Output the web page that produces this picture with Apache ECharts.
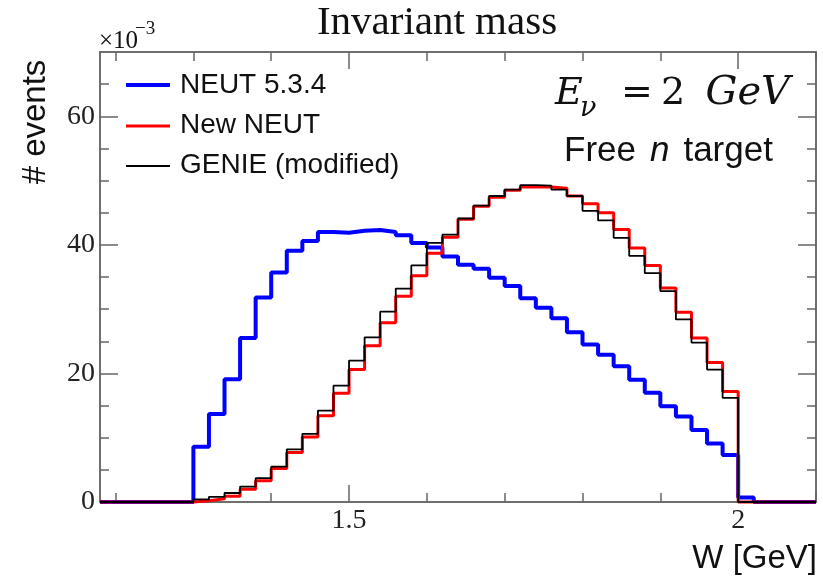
<!DOCTYPE html>
<html>
<head>
<meta charset="utf-8">
<script src="https://cdn.jsdelivr.net/npm/echarts@6.0.0/dist/echarts.min.js"></script>
<style>
  html, body { margin: 0; padding: 0; background: #fff; }
  #chart { width: 823px; height: 579px; }
</style>
</head>
<body>
<div id="chart"></div>
<script>
// Histogram binning: 46 bins of 0.02 GeV from 1.18 to 2.10 (values in units of 1e-3)
const binStart = 1.18;
const binWidth = 0.02;
const neut534 = [0, 0, 0, 0, 0, 0,
  8.6, 13.7, 19.1, 25.5, 31.8, 35.7, 39.1, 40.6, 42.0, 41.9,
  42.2, 42.3, 42.0, 41.5, 40.3, 39.6, 38.2, 36.9, 36.3, 34.9,
  33.6, 31.7, 30.2, 28.6, 26.4, 24.5, 22.9, 21.1, 19.0, 17.0,
  14.9, 13.3, 11.2, 9.1, 7.3, 0.7, 0, 0, 0, 0];
const newNeut = [0, 0, 0, 0, 0, 0,
  0.2, 0.5, 0.9, 2.0, 3.3, 5.2, 7.7, 10.1, 13.4, 16.9,
  20.6, 24.3, 27.9, 32.0, 35.2, 38.7, 41.2, 44.0, 46.0, 47.4,
  48.5, 49.0, 49.0, 48.8, 47.6, 46.4, 45.0, 42.4, 39.5, 36.8,
  33.3, 29.5, 25.5, 21.7, 17.2, 0, 0, 0, 0, 0];
const genieMod = [0, 0, 0, 0, 0, 0,
  0.4, 0.8, 1.4, 2.4, 3.7, 5.5, 8.2, 10.6, 14.2, 18.1,
  22.0, 25.6, 29.6, 33.2, 36.8, 40.3, 41.6, 44.1, 46.1, 47.6,
  48.6, 49.3, 49.2, 48.6, 47.6, 45.3, 43.8, 41.1, 38.3, 35.6,
  32.8, 28.4, 24.8, 20.6, 16.2, 0, 0, 0, 0, 0];
const seriesNames = ['NEUT 5.3.4', 'New NEUT', 'GENIE (modified)'];
const xMajorTicks = [1.5, 2];
const xMinorTicks = [1.2, 1.3, 1.4, 1.6, 1.7, 1.8, 1.9, 2.1];
const yMajorTicks = [0, 20, 40, 60];
const yMinorTicks = [5, 10, 15, 25, 30, 35, 45, 50, 55, 65];

function stepPoints(vals) {
  const pts = vals.map((v, i) => [+(binStart + i * binWidth).toFixed(4), v]);
  pts.push([+(binStart + vals.length * binWidth).toFixed(4), vals[vals.length - 1]]);
  return pts;
}

const SERIF = '"Liberation Serif", "Times New Roman", serif';
const SANS = '"Liberation Sans", Arial, sans-serif';
const MATH = '"DejaVu Serif", serif';
const frameColor = '#666';
const xMin = binStart, xMax = +(binStart + neut534.length * binWidth).toFixed(4);

function xAx(pos, ticks, len, labels) {
  return {
    type: 'value', min: xMin, max: xMax, position: pos, gridIndex: 0,
    axisLine: { show: true, onZero: false, lineStyle: { color: frameColor, width: 1.5 } },
    axisTick: { show: true, inside: true, length: len, customValues: ticks, lineStyle: { color: frameColor, width: 1.5 } },
    axisLabel: labels ? { show: true, customValues: ticks, fontFamily: SERIF, fontSize: 28, color: '#222', margin: 5,
      formatter: v => String(v) } : { show: false },
    splitLine: { show: false }
  };
}
function yAx(pos, ticks, len, labels) {
  return {
    type: 'value', min: 0, max: 70, position: pos, gridIndex: 0,
    axisLine: { show: true, onZero: false, lineStyle: { color: frameColor, width: 1.5 } },
    axisTick: { show: true, inside: true, length: len, customValues: ticks, lineStyle: { color: frameColor, width: 1.5 } },
    axisLabel: labels ? { show: true, customValues: ticks, fontFamily: SERIF, fontSize: 28, color: '#222', margin: 5 } : { show: false },
    splitLine: { show: false }
  };
}
function txt(x, y, text, font, align, extra) {
  return Object.assign({ type: 'text', x: x, y: y, style: { text: text, font: font, fill: '#111',
    align: align, textAlign: align, verticalAlign: 'middle', textVerticalAlign: 'middle' } }, extra || {});
}

const chart = echarts.init(document.getElementById('chart'), null, { renderer: 'canvas' });
const option = {
  backgroundColor: '#fff',
  animation: false,
  grid: { left: 100, top: 52, width: 716, height: 450, containLabel: false },
  xAxis: [
    xAx('bottom', xMajorTicks, 17, true),
    xAx('bottom', xMinorTicks, 9, false),
    xAx('top', xMajorTicks, 17, false),
    xAx('top', xMinorTicks, 9, false)
  ],
  yAxis: [
    yAx('left', yMajorTicks, 18, true),
    yAx('left', yMinorTicks, 9, false),
    yAx('right', yMajorTicks, 18, false),
    yAx('right', yMinorTicks, 9, false)
  ],
  series: [
    { name: seriesNames[0], type: 'line', step: 'end', symbol: 'none', clip: false, z: 2,
      data: stepPoints(neut534), lineStyle: { color: '#0000ff', width: 4 } },
    { name: seriesNames[1], type: 'line', step: 'end', symbol: 'none', clip: false, z: 3,
      data: stepPoints(newNeut), lineStyle: { color: '#ff0000', width: 3 } },
    { name: seriesNames[2], type: 'line', step: 'end', symbol: 'none', clip: false, z: 4,
      data: stepPoints(genieMod), lineStyle: { color: '#000000', width: 1.8 } }
  ],
  graphic: [
    txt(437, 23, 'Invariant mass', '41px ' + SERIF, 'center'),
    txt(99, 41, '×10', '25px ' + SERIF, 'left'),
    txt(135, 29, '−3', '19px ' + SERIF, 'left'),
    txt(35.5, 122, '# events', '33px ' + SANS, 'center', { rotation: Math.PI / 2 }),
    txt(817, 559, 'W [GeV]', '33px ' + SANS, 'right'),
    // legend
    { type: 'line', shape: { x1: 126, y1: 85, x2: 170, y2: 85 }, style: { stroke: '#0000ff', lineWidth: 4 } },
    { type: 'line', shape: { x1: 126, y1: 126, x2: 170, y2: 126 }, style: { stroke: '#ff0000', lineWidth: 3 } },
    { type: 'line', shape: { x1: 126, y1: 166, x2: 170, y2: 166 }, style: { stroke: '#000000', lineWidth: 1.8 } },
    txt(180, 85, seriesNames[0], '28px ' + SANS, 'left'),
    txt(180, 125, seriesNames[1], '28px ' + SANS, 'left'),
    txt(180, 165, seriesNames[2], '28px ' + SANS, 'left'),
    // annotations
    txt(555, 94, 'E', 'italic 38px ' + MATH, 'left'),
    txt(580, 109, 'ν', 'italic 27px ' + MATH, 'left'),
    txt(621, 94, '=', '38px ' + MATH, 'left'),
    txt(661, 94, '2', '38px ' + MATH, 'left'),
    txt(790, 94, 'GeV', 'italic 40px ' + MATH, 'right'),
    { type: 'text', x: 564, y: 151, style: {
      text: '{a|Free}{b|n}{a|target}', fill: '#111',
      align: 'left', textAlign: 'left', verticalAlign: 'middle', textVerticalAlign: 'middle',
      rich: { a: { fontFamily: SANS, fontSize: 35, fill: '#111', color: '#111' },
              b: { fontFamily: SANS, fontSize: 35, fontStyle: 'italic', fill: '#111', color: '#111', padding: [0, 14, 0, 14] } } } }
  ]
};
chart.setOption(option);
</script>
</body>
</html>
